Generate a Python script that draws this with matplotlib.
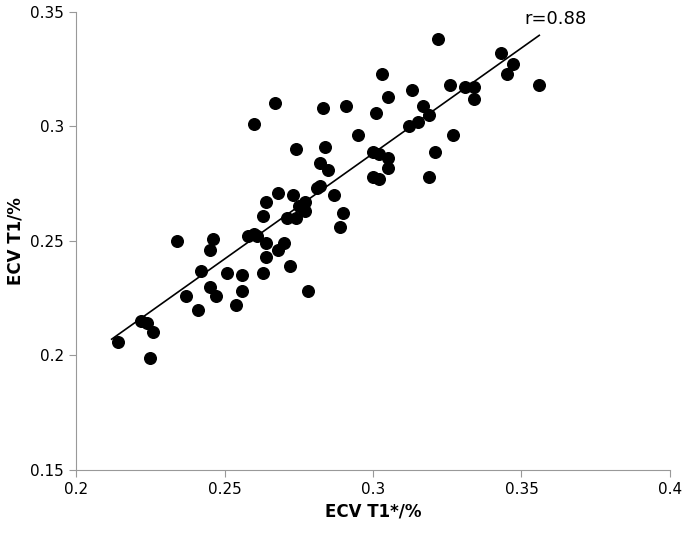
import matplotlib
matplotlib.use("Agg")
import matplotlib.pyplot as plt
import numpy as np

x_vals = [0.234,0.246,0.245,0.242,0.237,0.241,0.245,0.247,0.251,0.256,0.256,0.254,0.263,0.264,0.264,
          0.268,0.270,0.272,0.278,0.258,0.260,0.261,0.263,0.264,0.268,0.273,0.271,0.274,0.277,0.277,
          0.275,0.281,0.222,0.224,0.226,0.214,0.225,0.322,0.343,0.347,0.345,0.356,0.303,0.326,0.331,
          0.334,0.334,0.313,0.305,0.267,0.260,0.283,0.291,0.301,0.317,0.319,0.312,0.315,0.295,0.327,
          0.274,0.284,0.282,0.285,0.300,0.302,0.305,0.305,0.300,0.302,0.321,0.319,0.282,0.287,0.290,0.289]
y_vals = [0.250,0.251,0.246,0.237,0.226,0.220,0.230,0.226,0.236,0.235,0.228,0.222,0.236,0.243,0.249,
          0.246,0.249,0.239,0.228,0.252,0.253,0.252,0.261,0.267,0.271,0.270,0.260,0.260,0.267,0.263,
          0.265,0.273,0.215,0.214,0.210,0.206,0.199,0.338,0.332,0.327,0.323,0.318,0.323,0.318,0.317,
          0.317,0.312,0.316,0.313,0.310,0.301,0.308,0.309,0.306,0.309,0.305,0.300,0.302,0.296,0.296,
          0.290,0.291,0.284,0.281,0.289,0.288,0.286,0.282,0.278,0.277,0.289,0.278,0.274,0.270,0.262,0.256]
r_label = "r=0.88"
x_ticks = [0.2, 0.25, 0.3, 0.35, 0.4]
y_ticks = [0.15, 0.2, 0.25, 0.3, 0.35]

fig = plt.figure(figsize=(6.85, 5.37), dpi=100)
ax = fig.add_axes([0.111, 0.125, 0.867, 0.853])
x = np.array(x_vals); y = np.array(y_vals)
ax.scatter(x, y, s=70, color="black", zorder=3)
m, b = np.polyfit(x, y, 1)
xl = np.array([x.min() - 0.002, x.max()])
ax.plot(xl, m * xl + b, color="black", lw=1.2, zorder=2)
ax.text(0.351, 0.343, r_label, fontsize=13, ha="left", va="bottom")
ax.set_xlim(0.2, 0.4); ax.set_ylim(0.15, 0.35)
ax.set_xticks(x_ticks); ax.set_xticklabels([f"{t:g}" for t in x_ticks])
ax.set_yticks(y_ticks); ax.set_yticklabels([f"{t:g}" for t in y_ticks])
for s in ["top", "right"]:
    ax.spines[s].set_visible(False)
for s in ["left", "bottom"]:
    ax.spines[s].set_color("#999999")
ax.tick_params(direction="out", color="#999999", labelsize=11, length=5)
ax.set_xlabel("ECV T1*/%", fontsize=12, fontweight="bold")
ax.set_ylabel("ECV T1/%", fontsize=12, fontweight="bold")
fig.savefig("out.png", dpi=100)
